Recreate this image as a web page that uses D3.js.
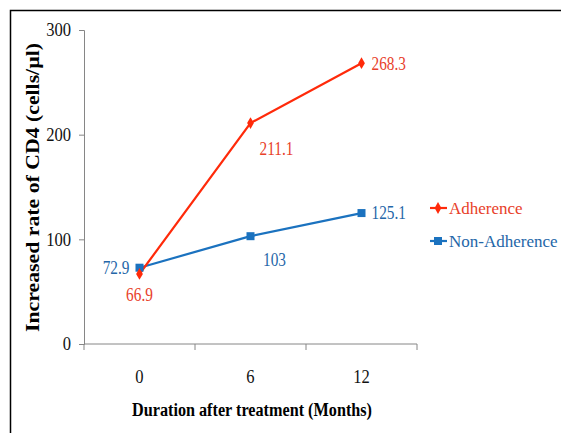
<!DOCTYPE html>
<html><head><meta charset="utf-8">
<script src="https://cdn.jsdelivr.net/npm/d3@7"></script>
<style>body{margin:0;background:#fff}svg{display:block}text{font-family:"Liberation Serif","Times New Roman",serif}</style>
</head><body><svg id="c" width="561" height="433"></svg>
<script>
const categories = ["0","6","12"];
const adherence = [66.9, 211.1, 268.3];
const nonAdherence = [72.9, 103, 125.1];
const yTicks = [0,100,200,300];
const seriesNames = ["Adherence","Non-Adherence"];

const red = "#ff2a0a", redText = "#e8402a", blue = "#1b72bf", blueText = "#2466a8";
const FF = "Liberation Serif";
const svg = d3.select("#c");
svg.append("rect").attr("x",10.5).attr("y",10.5).attr("width",600).attr("height",500)
  .attr("fill","none").attr("stroke","#000").attr("stroke-width",1.5);

function condense(sel, f){ sel.each(function(){ const w=this.getComputedTextLength(); d3.select(this).attr("textLength",w*f).attr("lengthAdjust","spacingAndGlyphs"); }); }

const x = d3.scaleBand().domain(categories).range([84,417]);
const y = d3.scaleLinear().domain([0,300]).range([344,30]);
const cx = d => x(d)+x.bandwidth()/2;

// y axis
const ya = svg.append("g").attr("transform","translate(84,0)")
  .call(d3.axisLeft(y).tickValues(yTicks).tickSize(5).tickPadding(8));
ya.attr("font-family",FF);
ya.select(".domain").attr("stroke","#868686");
ya.selectAll(".tick line").attr("stroke","#868686");
ya.selectAll(".tick text").attr("font-size",18).attr("fill","#111").attr("font-family",FF).call(condense,0.92);
// x axis
const xa = svg.append("g").attr("transform","translate(0,344)")
  .call(d3.axisBottom(x).tickSize(0).tickPadding(26));
xa.attr("font-family",FF);
xa.select(".domain").attr("stroke","#868686").attr("d","M84,0H417");
xa.selectAll(".tick text").attr("font-size",18).attr("fill","#111").attr("font-family",FF).call(condense,0.92);
const xb = [...categories.map(c=>x(c)), x.range()[1]];
svg.append("g").selectAll("line").data(xb).join("line")
  .attr("x1",d=>d).attr("x2",d=>d).attr("y1",344).attr("y2",350).attr("stroke","#868686");

// titles
svg.append("text").attr("transform","translate(39,187.5) rotate(-90)").attr("text-anchor","middle")
  .attr("font-weight","bold").attr("font-size",18).attr("textLength",289).attr("lengthAdjust","spacingAndGlyphs")
  .text("Increased rate of CD4 (cells/µl)");
svg.append("text").attr("x",252).attr("y",416).attr("text-anchor","middle")
  .attr("font-weight","bold").attr("font-size",18).attr("textLength",240).attr("lengthAdjust","spacingAndGlyphs")
  .text("Duration after treatment (Months)");

const line = d3.line().x((d,i)=>cx(categories[i])).y(d=>y(d));
svg.append("path").attr("d",line(nonAdherence)).attr("fill","none").attr("stroke",blue).attr("stroke-width",2.2);
svg.append("path").attr("d",line(adherence)).attr("fill","none").attr("stroke",red).attr("stroke-width",2.2);

const diamond = d3.symbol().type(d3.symbolDiamond).size(40);
svg.append("g").selectAll("rect").data(nonAdherence).join("rect")
  .attr("x",(d,i)=>cx(categories[i])-4).attr("y",d=>y(d)-4).attr("width",8).attr("height",8).attr("fill",blue);
svg.append("g").selectAll("path").data(adherence).join("path")
  .attr("d",diamond).attr("transform",(d,i)=>`translate(${cx(categories[i])},${y(d)})`).attr("fill",red);

// data labels
const redOff = [[0,27,"middle"],[26,32,"middle"],[10,7,"start"]];
svg.append("g").selectAll("text").data(adherence).join("text")
  .attr("x",(d,i)=>cx(categories[i])+redOff[i][0]).attr("y",(d,i)=>y(d)+redOff[i][1])
  .attr("text-anchor",(d,i)=>redOff[i][2]).attr("font-size",18).attr("fill",redText).text(d=>d).call(condense,0.85);
const blueOff = [[-10,6,"end"],[24,30,"middle"],[10,6,"start"]];
svg.append("g").selectAll("text").data(nonAdherence).join("text")
  .attr("x",(d,i)=>cx(categories[i])+blueOff[i][0]).attr("y",(d,i)=>y(d)+blueOff[i][1])
  .attr("text-anchor",(d,i)=>blueOff[i][2]).attr("font-size",18).attr("fill",blueText).text(d=>d).call(condense,0.85);

// legend
const lg = svg.append("g");
seriesNames.forEach((n,i)=>{
  const yy = 208 + i*33, col = i===0?red:blue;
  lg.append("line").attr("x1",430).attr("x2",447).attr("y1",yy).attr("y2",yy).attr("stroke",col).attr("stroke-width",2.2);
  if(i===0) lg.append("path").attr("d",diamond).attr("transform",`translate(438,${yy})`).attr("fill",col);
  else lg.append("rect").attr("x",434).attr("y",yy-4).attr("width",8).attr("height",8).attr("fill",col);
  lg.append("text").attr("x",449).attr("y",yy+6).attr("font-size",17).attr("fill",i===0?redText:blueText).text(n);
});
</script></body></html>
